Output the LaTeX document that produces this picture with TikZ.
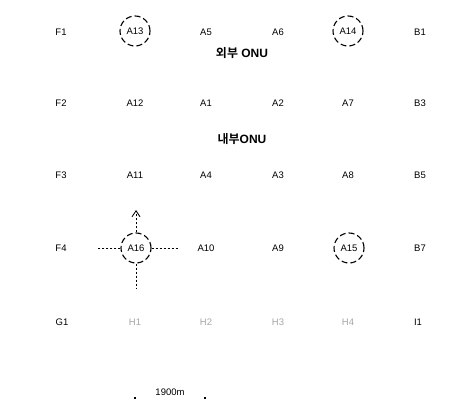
\documentclass[tikz,border=0pt]{standalone}
\usepackage{fontspec}
\setmainfont{Liberation Sans}
\newfontfamily\kr{Noto Sans CJK KR}[BoldFont={* Bold}]
\usepackage{tikz}
\usetikzlibrary{arrows.meta}

\tikzset{
  cell/.style={font=\fontsize{9.5}{11}\selectfont,inner sep=1pt},
  faint/.style={cell,text=black!35},
  onu/.style={font=\bfseries\fontsize{12}{14}\selectfont,inner sep=1pt},
  ring/.style={circle,draw,dashed,dash pattern=on 6pt off 3pt,minimum size=30pt,inner sep=0pt,line width=1.1pt},
  move/.style={dashed,dash pattern=on 2pt off 2pt,line width=0.9pt}
}

\begin{document}
\begin{tikzpicture}[x=1pt,y=-1pt]
  \useasboundingbox (0,0) rectangle (474,403);
  % row 1
  \node[cell] (f1) at (61,32) {F1};
  \node[cell,ring] (a13) at (135,31) {A13};
  \node[cell] (a5) at (206,32) {A5};
  \node[cell] (a6) at (278,32) {A6};
  \node[cell,ring] (a14) at (348,31) {A14};
  \node[cell] (b1) at (420,32) {B1};
  \node[onu] (outer) at (242,53) {{\kr 외부} ONU};
  % row 2
  \node[cell] (f2) at (61,103) {F2};
  \node[cell] (a12) at (135,103) {A12};
  \node[cell] (a1) at (206,103) {A1};
  \node[cell] (a2) at (278,103) {A2};
  \node[cell] (a7) at (348,103) {A7};
  \node[cell] (b3) at (420,103) {B3};
  \node[onu] (inner) at (242,139) {{\kr 내부}ONU};
  % row 3
  \node[cell] (f3) at (61,175) {F3};
  \node[cell] (a11) at (135,175) {A11};
  \node[cell] (a4) at (206,175) {A4};
  \node[cell] (a3) at (278,175) {A3};
  \node[cell] (a8) at (348,175) {A8};
  \node[cell] (b5) at (420,175) {B5};
  % row 4
  \node[cell] (f4) at (61,248) {F4};
  \node[cell,ring] (a16) at (136,248) {A16};
  \node[cell] (a10) at (206,248) {A10};
  \node[cell] (a9) at (278,248) {A9};
  \node[cell,ring] (a15) at (349,248) {A15};
  \node[cell] (b7) at (420,248) {B7};
  % row 5
  \node[cell] (g1) at (62,322) {G1};
  \node[faint] (h1) at (135,322) {H1};
  \node[faint] (h2) at (206,322) {H2};
  \node[faint] (h3) at (278,322) {H3};
  \node[faint] (h4) at (348,322) {H4};
  \node[cell] (i1) at (418,322) {I1};
  % moves of A16
  \coordinate (up) at (136,210);
  \coordinate (lt) at (97,248);
  \coordinate (rt) at (178,248);
  \coordinate (dn) at (136,288);
  \draw[move,-{Straight Barb[length=6pt,width=8pt]}] (a16.north) -- (up);
  \draw[move] (a16.west) -- (lt);
  \draw[move] (a16.east) -- (rt);
  \draw[move] (a16.south) -- (dn);
  % scale
  \node[cell] (scale) at (170,392) {1900m};
  \fill (134,397) rectangle (136,399);
  \fill (204,397) rectangle (206,399);
\end{tikzpicture}
\end{document}
